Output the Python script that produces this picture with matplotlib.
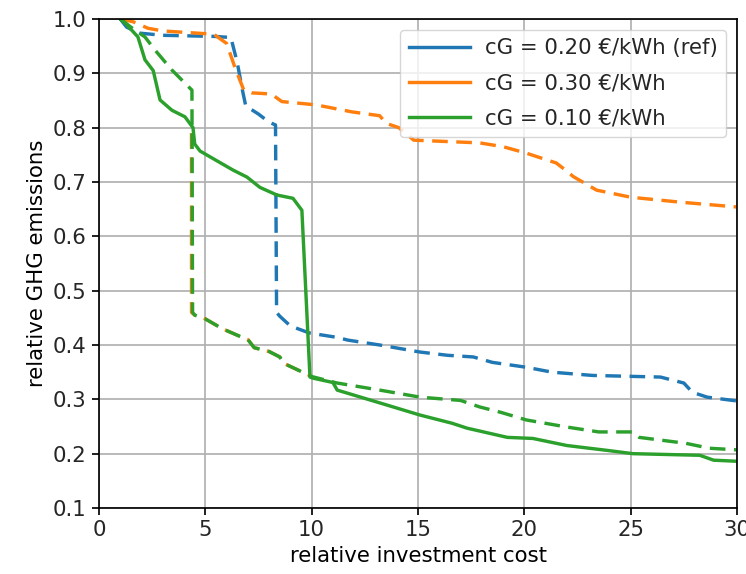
import matplotlib
matplotlib.use("Agg")
import matplotlib.pyplot as plt
from matplotlib.lines import Line2D

# Pareto fronts: relative investment cost vs. relative GHG emissions
ref_cost = [1.0, 1.3, 1.9, 3.0, 5.4, 6.2, 6.5, 6.75, 6.9, 7.5, 8.0, 8.3, 8.35, 8.5,
            9.0, 9.9, 11.2, 11.7, 13.2, 15.1, 16.4, 17.6, 18.5, 20.1, 21.3, 23.2,
            26.4, 27.5, 27.9, 28.6, 30.0]
ref_ghg = [1.0, 0.985, 0.974, 0.970, 0.968, 0.966, 0.92, 0.868, 0.84, 0.825, 0.81,
           0.805, 0.46, 0.453, 0.435, 0.422, 0.414, 0.409, 0.40, 0.387, 0.381, 0.378,
           0.368, 0.359, 0.35, 0.344, 0.341, 0.33, 0.313, 0.304, 0.297]

high_cost = [1.0, 1.6, 2.3, 3.0, 5.4, 6.0, 6.4, 6.8, 7.2, 8.1, 8.6, 10.2, 11.9, 13.2,
             13.5, 14.1, 14.8, 17.9, 19.0, 20.1, 21.5, 22.0, 22.3, 23.4, 25.0, 27.3, 30.0]
high_ghg = [1.0, 0.995, 0.983, 0.978, 0.972, 0.955, 0.91, 0.87, 0.864, 0.862, 0.848,
            0.842, 0.829, 0.822, 0.808, 0.80, 0.777, 0.772, 0.765, 0.753, 0.735, 0.72,
            0.71, 0.685, 0.672, 0.663, 0.654]
high_low_cost = [4.35, 4.35, 4.5, 5.0, 5.8, 6.5, 7.0, 7.3, 8.0, 8.5, 8.7, 9.3, 10.0]
high_low_ghg = [0.79, 0.46, 0.455, 0.448, 0.43, 0.418, 0.41, 0.395, 0.388, 0.378,
                0.366, 0.355, 0.342]

low_dash_cost = [1.0, 1.5, 2.16, 2.63, 3.43, 4.37, 4.4, 4.5, 5.0, 5.8, 6.5, 7.0, 7.3,
                 8.0, 8.5, 8.7, 9.3, 10.0, 11.2, 13.2, 15.1, 17.0, 17.9, 18.9, 20.1,
                 22.0, 23.5, 25.1, 25.4, 27.6, 28.7, 30.0]
low_dash_ghg = [1.0, 0.985, 0.967, 0.943, 0.906, 0.869, 0.46, 0.455, 0.448, 0.43,
                0.418, 0.41, 0.395, 0.388, 0.378, 0.366, 0.355, 0.342, 0.33, 0.317,
                0.304, 0.298, 0.286, 0.276, 0.262, 0.249, 0.24, 0.24, 0.23, 0.219,
                0.21, 0.207]

low_cost = [1.0, 1.22, 1.83, 2.16, 2.55, 2.87, 3.43, 4.04, 4.42, 4.5, 4.75, 5.5, 6.3,
            6.96, 7.57, 8.37, 9.12, 9.54, 9.92, 10.06, 11.0, 11.2, 13.07, 15.1, 16.6,
            17.3, 19.2, 20.4, 22.0, 23.9, 25.1, 28.25, 28.9, 30.0]
low_ghg = [1.0, 0.993, 0.967, 0.925, 0.905, 0.851, 0.832, 0.82, 0.80, 0.77, 0.757,
           0.74, 0.722, 0.709, 0.69, 0.676, 0.67, 0.648, 0.341, 0.339, 0.331, 0.317,
           0.295, 0.271, 0.256, 0.247, 0.23, 0.228, 0.215, 0.206, 0.20, 0.197, 0.188,
           0.186]

labels = ["cG = 0.20 €/kWh (ref)", "cG = 0.30 €/kWh", "cG = 0.10 €/kWh"]
colors = ["#1f77b4", "#ff7f0e", "#2ca02c"]

x_ticks = [0, 5, 10, 15, 20, 25, 30]
y_ticks = [0.1, 0.2, 0.3, 0.4, 0.5, 0.6, 0.7, 0.8, 0.9, 1.0]

S = 1.53
plt.rcParams["font.size"] = 10 * S
plt.rcParams["text.color"] = "#262626"
plt.rcParams["xtick.labelcolor"] = "#262626"
plt.rcParams["ytick.labelcolor"] = "#262626"

fig = plt.figure(figsize=(7.46, 5.74), dpi=100)
ax = fig.add_axes([99 / 746, 66 / 574, 638 / 746, 489 / 574])

lw = 1.6 * S
dash = (0, (4.6, 2.5))
ax.plot(ref_cost, ref_ghg, color=colors[0], lw=lw, ls=dash)
ax.plot(high_cost, high_ghg, color=colors[1], lw=lw, ls=dash)
ax.plot(high_low_cost, high_low_ghg, color=colors[1], lw=lw, ls=dash)
ax.plot(low_dash_cost, low_dash_ghg, color=colors[2], lw=lw, ls=dash)
ax.plot(low_cost, low_ghg, color=colors[2], lw=lw, ls="-")

ax.set_xlim(0, 30)
ax.set_ylim(0.1, 1.0)
ax.set_xticks(x_ticks)
ax.set_yticks(y_ticks)
ax.grid(True, color="#b0b0b0", lw=0.8 * S)
ax.tick_params(length=3.5 * S, width=0.8 * S)
for sp in ax.spines.values():
    sp.set_linewidth(0.8 * S)

ax.set_xlabel("relative investment cost", labelpad=4)
ax.set_ylabel("relative GHG emissions")

handles = [Line2D([0], [0], color=c, lw=lw) for c in colors]
ax.legend(handles, labels, loc="upper right", handlelength=2.9,
          handletextpad=0.7, labelspacing=0.72)

fig.savefig("out.png", dpi=100)
